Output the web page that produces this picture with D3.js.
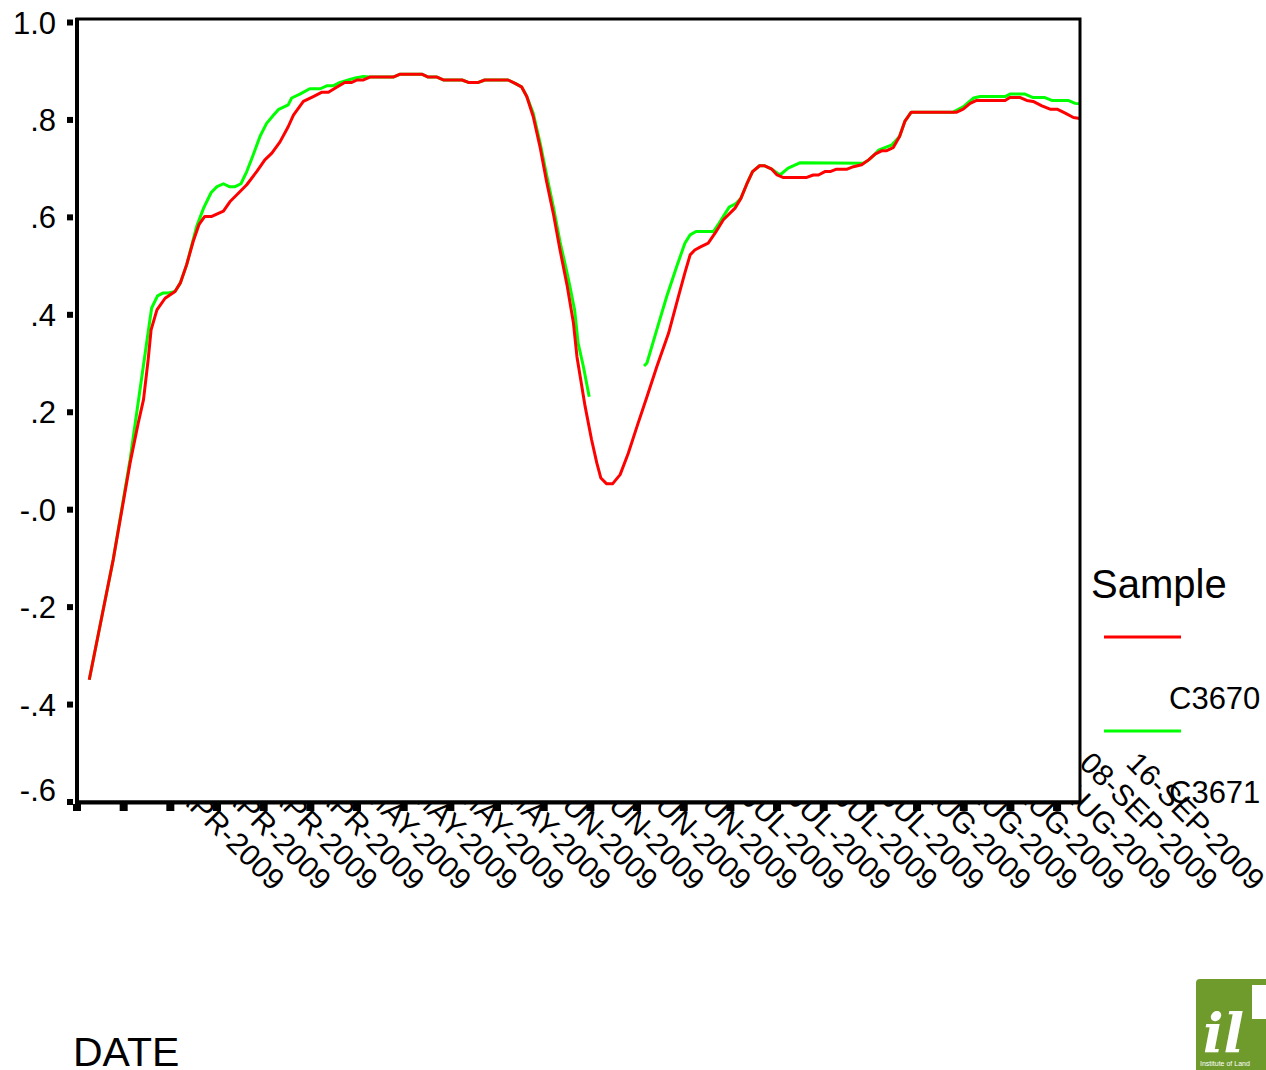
<!DOCTYPE html>
<html>
<head>
<meta charset="utf-8">
<script src="https://cdn.jsdelivr.net/npm/d3@7"></script>
<style>
  html, body { margin: 0; padding: 0; background: #fff; }
  svg { display: block; font-family: "Liberation Sans", Arial, sans-serif; }
</style>
</head>
<body>
<svg id="chart" width="1266" height="1070"></svg>
<script>
// Tick labels along the date axis (one every 8 days of the composite series)
const dateLabels = [
  "01-APR-2009", "09-APR-2009", "17-APR-2009", "25-APR-2009",
  "03-MAY-2009", "11-MAY-2009", "19-MAY-2009", "27-MAY-2009",
  "04-JUN-2009", "12-JUN-2009", "20-JUN-2009", "28-JUN-2009",
  "06-JUL-2009", "14-JUL-2009", "22-JUL-2009", "30-JUL-2009",
  "07-AUG-2009", "15-AUG-2009", "23-AUG-2009", "31-AUG-2009",
  "08-SEP-2009", "16-SEP-2009"
];
const tickStep = 8;          // days between labelled ticks
const yTicks = [1.0, 0.8, 0.6, 0.4, 0.2, 0.0, -0.2, -0.4, -0.6];
const yTickText = ["1.0", ".8", ".6", ".4", ".2", "-.0", "-.2", "-.4", "-.6"];

// Sample C3670 (days after 01-APR-2009, NDVI)
const c3670Day = [2.1, 4.5, 6.2, 9.1, 10.5, 11.4, 12.2, 12.7, 13.7, 15.1, 16.8, 17.7, 18.8, 19.9, 20.9, 21.9,
  23.1, 25.1, 26.2, 27.7, 29.1, 30.8, 32.2, 33.4, 34.8, 36.2, 37.1, 38.8, 40.5, 42.0, 43.1, 44.5, 45.9,
  47.1, 48.0, 49.1, 50.2, 54.2, 55.4, 59.1, 60.2, 61.7, 62.8, 66.0, 67.1, 68.8, 69.9, 73.9, 75.1, 76.2,
  77.1, 78.2, 79.4, 80.5, 81.7, 82.8, 84.0, 85.1, 85.7, 87.1, 88.2, 89.1, 89.8, 90.8, 91.8, 93.1, 94.5,
  96.0, 97.7, 99.4, 101.4, 103.1, 104.2, 105.1, 105.9, 106.8, 108.2, 109.4, 110.8, 112.8, 113.8, 114.8,
  115.8, 117.0, 117.8, 119.1, 120.0, 121.0, 125.1, 126.2, 127.1, 128.2, 129.1, 130.2, 132.0, 133.1,
  134.5, 135.7, 136.8, 138.0, 138.8, 139.9, 141.0, 141.9, 143.0, 150.8, 151.9, 153.1, 154.2, 159.1,
  159.9, 161.7, 162.8, 163.9, 165.4, 166.8, 168.0, 169.4, 170.8, 171.9];
const c3670Val = [-0.349, -0.205, -0.103, 0.096, 0.178, 0.226, 0.308, 0.369, 0.410, 0.434, 0.448, 0.465,
  0.503, 0.550, 0.585, 0.602, 0.602, 0.613, 0.632, 0.650, 0.667, 0.694, 0.718, 0.732, 0.755, 0.786, 0.810,
  0.838, 0.848, 0.857, 0.857, 0.867, 0.877, 0.877, 0.882, 0.882, 0.888, 0.888, 0.894, 0.894, 0.888, 0.888,
  0.882, 0.882, 0.877, 0.877, 0.882, 0.882, 0.875, 0.868, 0.848, 0.807, 0.743, 0.673, 0.605, 0.533, 0.461,
  0.383, 0.314, 0.212, 0.144, 0.096, 0.065, 0.053, 0.053, 0.072, 0.116, 0.171, 0.232, 0.294, 0.362, 0.438,
  0.486, 0.523, 0.533, 0.539, 0.547, 0.568, 0.595, 0.619, 0.639, 0.668, 0.694, 0.706, 0.706, 0.699, 0.687,
  0.682, 0.682, 0.687, 0.687, 0.694, 0.694, 0.699, 0.699, 0.704, 0.708, 0.718, 0.730, 0.737, 0.737, 0.743,
  0.766, 0.797, 0.816, 0.816, 0.822, 0.834, 0.840, 0.840, 0.846, 0.846, 0.840, 0.838, 0.829, 0.822, 0.822,
  0.814, 0.805, 0.803];

// Sample C3671 (null marks the missing stretch in early June)
const c3671Day = [2.1, 4.5, 6.2, 9.1, 12.5, 12.8, 13.8, 14.8, 15.7, 16.8, 17.7, 18.8, 20.5, 21.7, 23.0,
  24.0, 25.1, 26.1, 27.1, 28.1, 29.1, 30.1, 31.4, 32.5, 33.7, 34.5, 36.2, 36.8, 38.2, 39.9, 41.7, 42.8,
  43.9, 45.1, 46.5, 47.7, 49.1, 50.2, 54.2, 55.4, 59.1, 60.2, 61.7, 62.8, 66.0, 67.1, 68.8, 69.9, 73.9,
  75.1, 76.2, 77.1, 78.2, 79.4, 80.5, 81.7, 82.8, 84.0, 84.5, 85.3, 85.9, 86.8, 87.8, 92.5,
  97.2, 97.7, 99.9, 101.1, 102.8, 104.2, 105.1, 106.1, 109.1, 109.9, 110.8, 111.8, 112.9, 113.8, 114.8,
  115.8, 117.0, 117.8, 119.1, 120.5, 121.9, 123.9, 134.8, 135.7, 136.8, 137.4, 139.7, 141.0, 141.9,
  143.0, 150.2, 151.9, 153.7, 154.8, 159.1, 159.9, 162.5, 163.9, 165.9, 167.1, 169.9, 171.1, 171.9];
const c3671Val = [-0.349, -0.205, -0.103, 0.103, 0.390, 0.414, 0.439, 0.445, 0.445, 0.448, 0.465, 0.503,
  0.581, 0.619, 0.651, 0.663, 0.669, 0.663, 0.663, 0.669, 0.694, 0.725, 0.767, 0.793, 0.810, 0.821, 0.831,
  0.845, 0.853, 0.864, 0.864, 0.870, 0.870, 0.877, 0.882, 0.886, 0.889, 0.888, 0.888, 0.894, 0.894, 0.888,
  0.888, 0.882, 0.882, 0.877, 0.877, 0.882, 0.882, 0.875, 0.868, 0.848, 0.814, 0.752, 0.687, 0.619, 0.550,
  0.486, 0.458, 0.410, 0.342, 0.294, 0.232, null,
  0.295, 0.301, 0.390, 0.438, 0.499, 0.547, 0.564, 0.571, 0.571, 0.585, 0.602, 0.621, 0.628, 0.639, 0.668,
  0.694, 0.706, 0.706, 0.699, 0.687, 0.701, 0.712, 0.711, 0.718, 0.730, 0.738, 0.749, 0.766, 0.797,
  0.816, 0.816, 0.827, 0.845, 0.848, 0.848, 0.853, 0.853, 0.846, 0.846, 0.840, 0.840, 0.834, 0.833];

const seriesNames = ["C3670", "C3671"];
const seriesColors = ["#ff0000", "#00ff00"];

const svg = d3.select("#chart");
const plot = { left: 77, top: 19, right: 1080, bottom: 802 };

// 8 days per 46.67 px, day 0 on the left edge
const x = d3.scaleLinear()
  .domain([0, 172])
  .range([plot.left, plot.left + 172 * (46.67 / tickStep)]);
const y = d3.scaleLinear().domain([-0.6, 1.0]).range([plot.bottom, 22.5]);

const tickDays = dateLabels.map((_, i) => i * tickStep);

// Rotated date labels (the plot panel is painted over their upper ends)
svg.append("g").selectAll("text")
  .data(dateLabels)
  .join("text")
  .attr("transform", (d, i) => `translate(${x(tickDays[i]) + 195},892) rotate(45)`)
  .attr("text-anchor", "end")
  .attr("font-size", 30)
  .attr("fill", "#000")
  .text(d => d);

// Plot panel
svg.append("rect")
  .attr("x", plot.left).attr("y", plot.top)
  .attr("width", plot.right - plot.left).attr("height", plot.bottom - plot.top)
  .attr("fill", "#fff");

// Series lines
const pts = (days, vals) => days.map((d, i) => ({ d, v: vals[i] }));
const line = d3.line()
  .defined(p => p.v !== null)
  .x(p => x(p.d))
  .y(p => y(p.v));

const g = svg.append("g");
g.append("path")
  .attr("d", line(pts(c3671Day, c3671Val)))
  .attr("fill", "none").attr("stroke", seriesColors[1])
  .attr("stroke-width", 3).attr("stroke-linejoin", "round");
g.append("path")
  .attr("d", line(pts(c3670Day, c3670Val)))
  .attr("fill", "none").attr("stroke", seriesColors[0])
  .attr("stroke-width", 3).attr("stroke-linejoin", "round");

// Frame
svg.append("rect")
  .attr("x", plot.left).attr("y", plot.top)
  .attr("width", plot.right - plot.left).attr("height", plot.bottom - plot.top)
  .attr("fill", "none").attr("stroke", "#000").attr("stroke-width", 3);
svg.append("line")
  .attr("x1", plot.left).attr("x2", plot.left)
  .attr("y1", plot.top - 1).attr("y2", plot.bottom + 2)
  .attr("stroke", "#000").attr("stroke-width", 4);
svg.append("line")
  .attr("x1", plot.left - 1).attr("x2", plot.right)
  .attr("y1", plot.bottom + 0.5).attr("y2", plot.bottom + 0.5)
  .attr("stroke", "#000").attr("stroke-width", 4);

// Y axis: square tick marks and labels
const yAxis = svg.append("g");
yAxis.selectAll("rect")
  .data(yTicks)
  .join("rect")
  .attr("x", 67).attr("y", d => y(d) - 3)
  .attr("width", 6).attr("height", 6)
  .attr("fill", "#000");
yAxis.selectAll("text")
  .data(yTicks)
  .join("text")
  .attr("x", 56)
  .attr("y", (d, i) => y(d) + (i === yTicks.length - 1 ? -1 : 11))
  .attr("text-anchor", "end")
  .attr("font-size", 31)
  .text((d, i) => yTickText[i]);

// X axis: square tick marks
svg.append("g").selectAll("rect")
  .data(tickDays)
  .join("rect")
  .attr("x", d => x(d) - 4).attr("y", plot.bottom + 2)
  .attr("width", 8).attr("height", 7)
  .attr("fill", "#000");

// Axis title
svg.append("text")
  .attr("x", 73).attr("y", 1066)
  .attr("font-size", 41)
  .text("DATE");

// Legend
const legend = svg.append("g");
legend.append("text")
  .attr("x", 1091).attr("y", 598)
  .attr("font-size", 40)
  .text("Sample");
seriesNames.forEach((name, i) => {
  const ly = 637 + i * 94;
  legend.append("line")
    .attr("x1", 1104).attr("x2", 1181)
    .attr("y1", ly).attr("y2", ly)
    .attr("stroke", seriesColors[i]).attr("stroke-width", 3);
  legend.append("text")
    .attr("x", 1169).attr("y", ly + 72)
    .attr("font-size", 31)
    .text(name);
});

// Institute badge in the lower right corner
const logo = svg.append("g");
logo.append("rect")
  .attr("x", 1196).attr("y", 979).attr("width", 90).attr("height", 100)
  .attr("rx", 4).attr("fill", "#6e9b2c");
logo.append("rect")
  .attr("x", 1252).attr("y", 985).attr("width", 20).attr("height", 34)
  .attr("fill", "#fff");
logo.append("text")
  .attr("x", 1203).attr("y", 1052)
  .attr("font-family", "DejaVu Serif, serif")
  .attr("font-style", "italic").attr("font-weight", "bold")
  .attr("font-size", 54).attr("fill", "#fff")
  .text("il");
logo.append("text")
  .attr("x", 1200).attr("y", 1066)
  .attr("font-size", 7).attr("fill", "#fff")
  .text("Institute of Land");
</script>
</body>
</html>
